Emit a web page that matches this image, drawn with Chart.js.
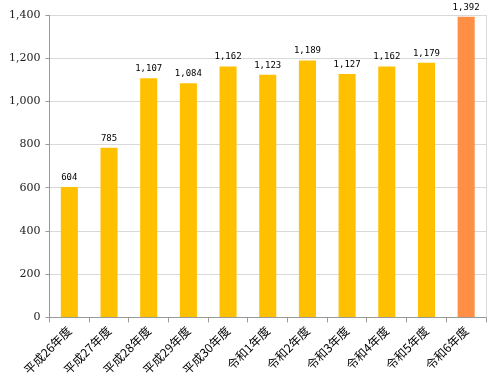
<!DOCTYPE html>
<html>
<head>
<meta charset="utf-8">
<script src="https://cdn.jsdelivr.net/npm/chart.js@4"></script>
<style>
  body { margin: 0; background: #fff; }
  #wrap { width: 500px; height: 380px; }
</style>
</head>
<body>
<div id="wrap"><canvas id="my-chart" width="500" height="380"></canvas></div>
<script>
const categories = ['平成26年度', '平成27年度', '平成28年度', '平成29年度', '平成30年度',
  '令和1年度', '令和2年度', '令和3年度', '令和4年度', '令和5年度', '令和6年度'];
const values = [604, 785, 1107, 1084, 1162, 1123, 1189, 1127, 1162, 1179, 1392];
const yTicks = [0, 200, 400, 600, 800, 1000, 1200, 1400];

const barColors = values.map((v, i) => i === values.length - 1 ? '#FF8F45' : '#FFC000');

// draw the value above each bar
const valueLabels = {
  id: 'valueLabels',
  afterDatasetsDraw(chart) {
    const { ctx } = chart;
    const meta = chart.getDatasetMeta(0);
    ctx.save();
    ctx.font = '9px "DejaVu Sans Mono", monospace';
    ctx.fillStyle = '#000';
    ctx.textAlign = 'center';
    ctx.textBaseline = 'bottom';
    meta.data.forEach((bar, i) => {
      ctx.fillText(values[i].toLocaleString('en-US'), bar.x, bar.y - 5);
    });
    ctx.restore();
  }
};

// right border of the plot area
const rightBorder = {
  id: 'rightBorder',
  beforeDatasetsDraw(chart) {
    const { ctx, chartArea } = chart;
    ctx.save();
    ctx.strokeStyle = '#D9D9D9';
    ctx.lineWidth = 1;
    ctx.beginPath();
    ctx.moveTo(chartArea.right + 0.5, chartArea.top);
    ctx.lineTo(chartArea.right + 0.5, chartArea.bottom);
    ctx.stroke();
    ctx.restore();
  }
};

const ctx = document.querySelector('#my-chart').getContext('2d');
const chart = new Chart(ctx, {
  type: 'bar',
  data: {
    labels: categories,
    datasets: [{
      data: values,
      backgroundColor: barColors,
      barPercentage: 0.43,
      categoryPercentage: 1
    }]
  },
  options: {
    responsive: false,
    animation: false,
    layout: { padding: { top: 15, right: 14, left: 4, bottom: 2 } },
    plugins: {
      legend: { display: false },
      tooltip: { enabled: false }
    },
    scales: {
      x: {
        grid: {
          display: true,
          drawOnChartArea: false,
          drawTicks: true,
          tickLength: 5,
          color: '#999',
          offset: true
        },
        border: { color: '#999' },
        ticks: {
          color: '#000',
          minRotation: 45,
          maxRotation: 45,
          font: { family: '"Noto Sans CJK JP"', size: 12 },
          padding: 1
        }
      },
      y: {
        min: 0,
        max: 1400,
        afterBuildTicks(axis) {
          axis.ticks = yTicks.map(v => ({ value: v }));
        },
        grid: {
          color: '#D9D9D9',
          tickLength: 4,
          tickColor: '#999'
        },
        border: { color: '#999' },
        ticks: {
          color: '#222',
          font: { family: '"DejaVu Serif"', size: 11 },
          padding: 5,
          callback: v => v.toLocaleString('en-US')
        }
      }
    }
  },
  plugins: [valueLabels, rightBorder]
});
</script>
</body>
</html>
